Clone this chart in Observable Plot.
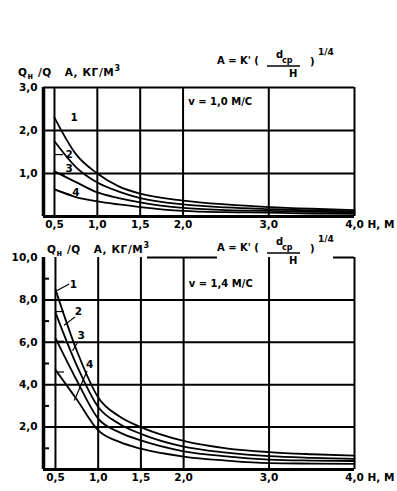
<!DOCTYPE html>
<html><head><meta charset="utf-8">
<script src="https://cdn.jsdelivr.net/npm/d3@7"></script>
<script src="https://cdn.jsdelivr.net/npm/@observablehq/plot@0.6"></script>
<style>
body{margin:0;background:#fff;}
#chart{width:397px;}
#chart svg{display:block;}
</style></head><body><div id="chart"></div>
<script>
// ---- data ----
const H = [0.5, 0.75, 1.0, 1.25, 1.5, 2.0, 2.5, 3.0, 3.5, 4.0];
// v = 1,0 m/s
const a1 = [2.3, 1.45, 1.0, 0.7, 0.53, 0.37, 0.28, 0.22, 0.18, 0.15];
const a2 = [1.75, 1.15, 0.79, 0.58, 0.43, 0.28, 0.21, 0.17, 0.14, 0.12];
const a3 = [1.05, 0.8, 0.56, 0.43, 0.33, 0.2, 0.15, 0.13, 0.11, 0.09];
const a4 = [0.63, 0.45, 0.35, 0.28, 0.22, 0.13, 0.1, 0.09, 0.07, 0.06];
// v = 1,4 m/s
const b1 = [8.5, 5.6, 3.4, 2.5, 2.0, 1.35, 1.0, 0.82, 0.72, 0.65];
const b2 = [7.4, 4.9, 2.95, 2.15, 1.68, 1.08, 0.8, 0.63, 0.55, 0.5];
const b3 = [6.2, 4.2, 2.4, 1.75, 1.37, 0.86, 0.62, 0.47, 0.42, 0.4];
const b4 = [4.7, 3.3, 1.85, 1.3, 0.98, 0.61, 0.42, 0.3, 0.28, 0.27];

const curveNames = ["1", "2", "3", "4"];
const xTicks = [0.5, 1.0, 1.5, 2.0, 3.0, 4.0];
const xGrid = [0.5, 1.0, 1.5, 2.0, 3.0];
const topXDomain = [0.372, 4.0];
const botXDomain = [0.36, 4.0];
const topYDomain = [0, 3];
const botYDomain = [0, 10];
const topYTicks = [1, 2, 3];
const botYTicks = [2, 4, 6, 8, 10];
const botMinorTicks = [1, 3, 5, 7, 9];
const topTitle = ["v = 1,0 М/С"];
const botTitle = ["v = 1,4 М/С"];
const xUnit = "Н, М";
// curve labels (H, A)
const topLabels = [{t:"1",H:0.73,A:2.3},{t:"2",H:0.67,A:1.45},{t:"3",H:0.67,A:1.12},{t:"4",H:0.75,A:0.56}];
const botLabels = [{t:"1",H:0.71,A:8.7},{t:"2",H:0.77,A:7.45},{t:"3",H:0.8,A:6.3},{t:"4",H:0.9,A:4.95}];
const topLeaders = [{x1:0.5,y1:1.44,x2:0.6,y2:1.44},{x1:0.51,y1:1.03,x2:0.62,y2:0.96},{x1:0.5,y1:0.63,x2:0.7,y2:0.5}];
const botLeaders = [{x1:0.52,y1:8.44,x2:0.66,y2:8.75},{x1:0.5,y1:7.45,x2:0.6,y2:7.45},{x1:0.73,y1:7.2,x2:0.6,y2:6.8},
  {x1:0.5,y1:6.05,x2:0.6,y2:6.05},{x1:0.76,y1:6.0,x2:0.7,y2:5.6},{x1:0.5,y1:4.6,x2:0.6,y2:4.6},{x1:0.87,y1:4.65,x2:0.72,y2:3.25}];
const botTopBorder = [[1.577, 2.396], [3.754, 4.0]];

const rows = (arrs) => arrs.flatMap((arr, i) => arr.map((A, j) => ({H: H[j], A, curve: curveNames[i]})));
const topRows = rows([a1, a2, a3, a4]);
const botRows = rows([b1, b2, b3, b4]);

const FONT = "'DejaVu Sans', 'Liberation Sans', Arial, sans-serif";
const fmt = d => d.toFixed(1).replace(".", ",");

function panel({height, marginTop, marginBottom, xDomain, yDomain, yTicks, data, labels, leaders, vText, vPos, fullTop, minor}) {
  const marks = [
    Plot.ruleX(xGrid, {stroke: "black", strokeWidth: 2}),
    Plot.ruleY(yTicks.filter(d => d < yDomain[1]), {stroke: "black", strokeWidth: 2}),
    Plot.ruleX([xDomain[1]], {stroke: "black", strokeWidth: 2}),
    Plot.ruleX([xDomain[0]], {stroke: "black", strokeWidth: 3.5}),
    Plot.ruleY([yDomain[0]], {stroke: "black", strokeWidth: 3}),
  ];
  if (fullTop) marks.push(Plot.ruleY([yDomain[1]], {stroke: "black", strokeWidth: 2}));
  else marks.push(Plot.ruleY(botTopBorder, {x1: d => d[0], x2: d => d[1], y: () => yDomain[1], stroke: "black", strokeWidth: 2}));
  if (minor) marks.push(Plot.ruleY(minor, {x1: () => xDomain[0], x2: () => xDomain[0] + 0.07, stroke: "black", strokeWidth: 2}));
  marks.push(
    Plot.line(data, {x: "H", y: "A", z: "curve", curve: "monotone-x", stroke: "black", strokeWidth: 1.8}),
    Plot.link(leaders, {x1: "x1", y1: "y1", x2: "x2", y2: "y2", stroke: "black", strokeWidth: 1.2}),
    Plot.text(labels, {x: "H", y: "A", text: "t", fontSize: 10.5, fontWeight: "bold", fill: "black"}),
    Plot.text(vText, {x: () => vPos[0], y: () => vPos[1], textAnchor: "start", fontSize: 10, fontWeight: "bold", fill: "black"}),
    Plot.axisX(xTicks, {anchor: "bottom", tickSize: 0, tickPadding: 4, tickFormat: fmt, label: null, fontSize: 10.5, fontWeight: "bold"}),
    Plot.axisY(yTicks, {anchor: "left", tickSize: 0, tickPadding: 6, tickFormat: fmt, label: null, fontSize: 10.5, fontWeight: "bold"}),
    Plot.text([xDomain[1]], {x: d => d, frameAnchor: "bottom", text: () => xUnit, textAnchor: "start", lineAnchor: "top", dx: 13, dy: 4, fontSize: 10.5, fontWeight: "bold", fill: "black"})
  );
  return Plot.plot({
    width: 397, height, marginLeft: 43, marginRight: 43, marginTop, marginBottom,
    style: {fontFamily: FONT, fontSize: "10px", fontWeight: "bold", background: "white", color: "black", overflow: "visible"},
    x: {domain: xDomain},
    y: {domain: yDomain},
    marks
  });
}

function addText(svg, x, y, str, size = 10.5, anchor = "start") {
  d3.select(svg).append("text").attr("x", x).attr("y", y).attr("font-size", size)
    .attr("font-weight", "bold").attr("font-family", FONT).attr("text-anchor", anchor).attr("fill", "black").text(str);
}
function addTitle(svg, x, y) {
  const t = d3.select(svg).append("text").attr("x", x).attr("y", y).attr("font-size", 10.5)
    .attr("font-weight", "bold").attr("font-family", FONT).attr("text-anchor", "start")
    .attr("letter-spacing", 0.6).attr("fill", "black");
  t.append("tspan").text("Q");
  t.append("tspan").attr("dy", 3).attr("font-size", 8).text("н");
  t.append("tspan").attr("dy", -3).text(" /Q   A, КГ/М");
  t.append("tspan").attr("dy", -5).attr("font-size", 8).text("3");
}
function addFormula(svg, base) {
  addText(svg, 217, base, "A = K' (", 10);
  addText(svg, 276, base - 6, "d", 10);
  addText(svg, 282, base - 1, "ср", 8);
  d3.select(svg).append("line").attr("x1", 267).attr("x2", 300).attr("y1", base + 2).attr("y2", base + 2)
    .attr("stroke", "black").attr("stroke-width", 1.6);
  addText(svg, 289, base + 13, "H", 10);
  addText(svg, 310, base + 1, ")", 10);
  addText(svg, 318, base - 9, "1/4", 9);
}

const chart = document.getElementById("chart");
const topSvg = panel({height: 232, marginTop: 87, marginBottom: 16, xDomain: topXDomain, yDomain: topYDomain,
  yTicks: topYTicks, data: topRows, labels: topLabels, leaders: topLeaders, vText: topTitle, vPos: [2.06, 2.67], fullTop: true});
addTitle(topSvg, 18, 76);
addFormula(topSvg, 64);
chart.appendChild(topSvg);

const botSvg = panel({height: 259, marginTop: 25, marginBottom: 22, xDomain: botXDomain, yDomain: botYDomain,
  yTicks: botYTicks, data: botRows, labels: botLabels, leaders: botLeaders, vText: botTitle, vPos: [2.06, 8.77], fullTop: false, minor: botMinorTicks});
addTitle(botSvg, 47, 21);
addFormula(botSvg, 19);
chart.appendChild(botSvg);
</script>
</body></html>
